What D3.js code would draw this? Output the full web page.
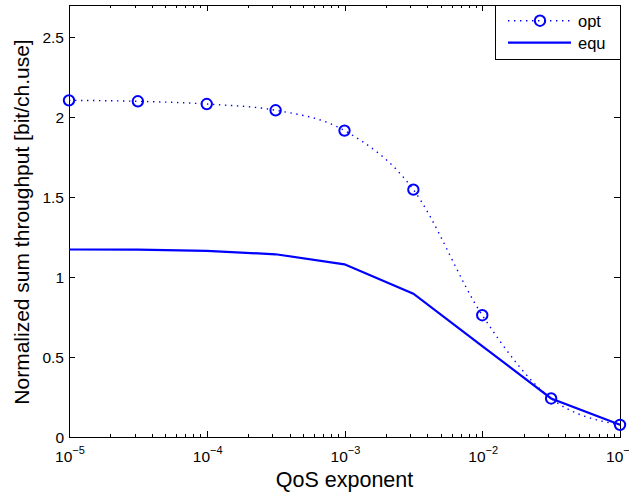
<!DOCTYPE html>
<html>
<head>
<meta charset="utf-8">
<script src="https://cdn.jsdelivr.net/npm/d3@7"></script>
<style>
  html, body { margin: 0; padding: 0; background: #fff; }
  svg { display: block; }
  text { font-family: "Liberation Sans", Arial, Helvetica, sans-serif; fill: #000; }
</style>
</head>
<body>
<svg id="chart" width="629" height="495"></svg>
<script>
// ---- data ----
const qosExponents = [1e-5, 3.162e-5, 1e-4, 3.162e-4, 1e-3, 3.162e-3, 1e-2, 3.162e-2, 1e-1];
const optValues = [2.104, 2.098, 2.081, 2.042, 1.915, 1.546, 0.761, 0.241, 0.076];
const equValues = [1.172, 1.171, 1.163, 1.142, 1.079, 0.896, 0.568, 0.241, 0.076];
const seriesNames = ["opt", "equ"];
const xTickPowers = [-5, -4, -3, -2, -1];
const yTicks = [0, 0.5, 1, 1.5, 2, 2.5];
const yTickLabels = ["0", "0.5", "1", "1.5", "2", "2.5"];
const xLabel = "QoS exponent";
const yLabel = "Normalized sum throughput [bit/ch.use]";

(function () {
// ---- layout ----
const pLeft = 69, pRight = 620, pTop = 5, pBottom = 437;
const blue = "#0000ff";

const svg = d3.select("#chart");
const x = d3.scaleLog().domain([1e-5, 1e-1]).range([pLeft, pRight]);
const y = d3.scaleLinear().domain([0, 2.7]).range([pBottom, pTop]);

// ticks
const majorX = xTickPowers.map(p => Math.pow(10, p));
const minorX = [];
for (let p = -5; p < -1; p++) for (let k = 2; k <= 9; k++) minorX.push(k * Math.pow(10, p));

const tickG = svg.append("g").attr("stroke", "#000").attr("stroke-width", 1);
majorX.forEach(v => {
  const px = Math.round(x(v)) + 0.5;
  tickG.append("line").attr("x1", px).attr("x2", px).attr("y1", pBottom).attr("y2", pBottom - 6);
  tickG.append("line").attr("x1", px).attr("x2", px).attr("y1", pTop).attr("y2", pTop + 6);
});
minorX.forEach(v => {
  const px = Math.round(x(v)) + 0.5;
  tickG.append("line").attr("x1", px).attr("x2", px).attr("y1", pBottom).attr("y2", pBottom - 3);
  tickG.append("line").attr("x1", px).attr("x2", px).attr("y1", pTop).attr("y2", pTop + 3);
});
yTicks.forEach(v => {
  const py = Math.round(y(v)) + 0.5;
  tickG.append("line").attr("x1", pLeft).attr("x2", pLeft + 6).attr("y1", py).attr("y2", py);
  tickG.append("line").attr("x1", pRight).attr("x2", pRight - 6).attr("y1", py).attr("y2", py);
});

// box
svg.append("rect").attr("x", pLeft + 0.5).attr("y", pTop + 0.5)
  .attr("width", pRight - pLeft).attr("height", pBottom - pTop)
  .attr("fill", "none").attr("stroke", "#000").attr("stroke-width", 1);

// y tick labels
yTicks.forEach((v, i) => {
  svg.append("text").attr("x", 64).attr("y", y(v) + 5.5)
    .attr("text-anchor", "end").attr("font-size", 15.5).text(yTickLabels[i]);
});
// x tick labels with superscripts
xTickPowers.forEach(p => {
  const t = svg.append("text").attr("x", x(Math.pow(10, p)) + 1).attr("y", 461.5)
    .attr("text-anchor", "middle").attr("font-size", 15.5);
  t.append("tspan").text("10");
  t.append("tspan").attr("font-size", 11).attr("dy", -8).text("\u2212" + Math.abs(p));
});

// axis labels
svg.append("text").attr("x", (pLeft + pRight) / 2).attr("y", 486.5)
  .attr("text-anchor", "middle").attr("font-size", 21.5).text(xLabel);
svg.append("text").attr("transform", `translate(29,${(pTop + pBottom) / 2 + 1}) rotate(-90)`)
  .attr("text-anchor", "middle").attr("font-size", 21).text(yLabel);

// opt series
const optData = qosExponents.map((q, i) => [q, optValues[i]]);
const equData = qosExponents.map((q, i) => [q, equValues[i]]);

svg.append("path").datum(optData)
  .attr("d", d3.line().x(d => x(d[0])).y(d => y(d[1])).curve(d3.curveMonotoneX))
  .attr("fill", "none").attr("stroke", blue).attr("stroke-width", 1.4)
  .attr("stroke-dasharray", "1.4,4.6");
svg.append("g").selectAll("circle").data(optData).join("circle")
  .attr("cx", d => x(d[0])).attr("cy", d => y(d[1])).attr("r", 5.2)
  .attr("fill", "none").attr("stroke", blue).attr("stroke-width", 2);

// equ series
svg.append("path").datum(equData)
  .attr("d", d3.line().x(d => x(d[0])).y(d => y(d[1])).curve(d3.curveLinear))
  .attr("fill", "none").attr("stroke", blue).attr("stroke-width", 2.2);

// legend
const lg = svg.append("g");
lg.append("rect").attr("x", 495.5).attr("y", pTop + 0.5).attr("width", pRight - 495).attr("height", 54)
  .attr("fill", "#fff").attr("stroke", "#000").attr("stroke-width", 1);
lg.append("line").attr("x1", 508).attr("x2", 572).attr("y1", 20.7).attr("y2", 20.7)
  .attr("stroke", blue).attr("stroke-width", 1.4).attr("stroke-dasharray", "1.4,4.6");
lg.append("circle").attr("cx", 540).attr("cy", 20.7).attr("r", 5.2)
  .attr("fill", "none").attr("stroke", blue).attr("stroke-width", 2);
lg.append("line").attr("x1", 508).attr("x2", 571).attr("y1", 42.7).attr("y2", 42.7)
  .attr("stroke", blue).attr("stroke-width", 2.2);
lg.append("text").attr("x", 578).attr("y", 26.5).attr("font-size", 16.5).text(seriesNames[0]);
lg.append("text").attr("x", 578).attr("y", 48.5).attr("font-size", 16.5).text(seriesNames[1]);
})();
</script>
</body>
</html>
